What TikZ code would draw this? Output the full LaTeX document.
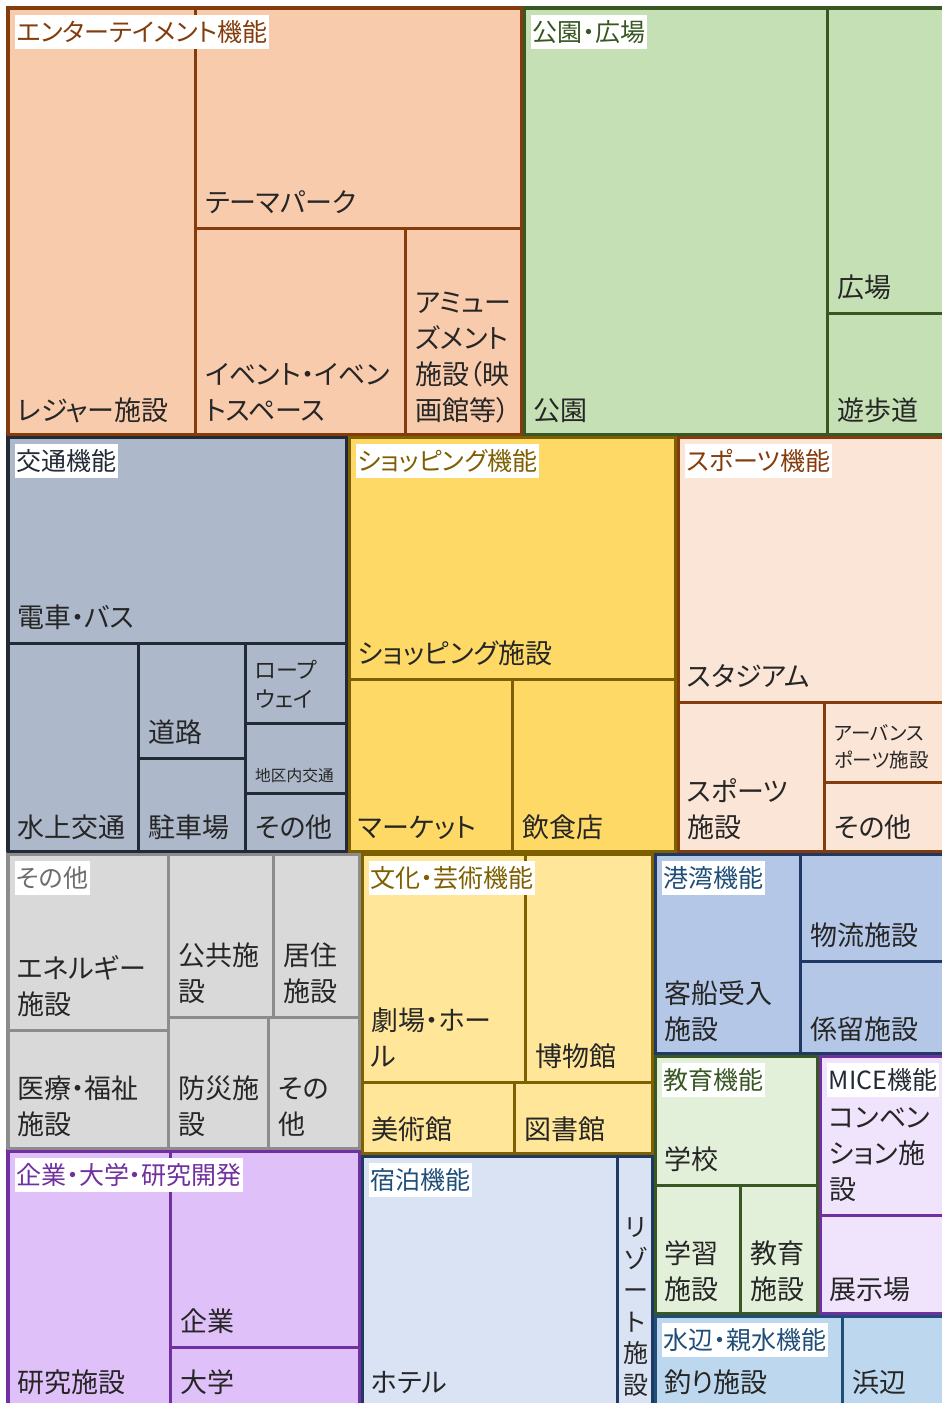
\documentclass[tikz,border=0pt]{standalone}
\usepackage{fontspec}
\setmainfont{Noto Sans CJK JP}[RawFeature={+palt}]
\usepackage{tikz}
\definecolor{labtext}{HTML}{262626}
\definecolor{entfill}{HTML}{F8CBAD}
\definecolor{entline}{HTML}{843C0C}
\definecolor{parkfill}{HTML}{C5E0B4}
\definecolor{parkline}{HTML}{385723}
\definecolor{trafill}{HTML}{ADB9CA}
\definecolor{traline}{HTML}{222A35}
\definecolor{shopfill}{HTML}{FFD966}
\definecolor{shopline}{HTML}{7F6000}
\definecolor{sportfill}{HTML}{FBE5D6}
\definecolor{othfill}{HTML}{D9D9D9}
\definecolor{othline}{HTML}{8C8C8C}
\definecolor{othtext}{HTML}{6E6E6E}
\definecolor{culfill}{HTML}{FFE699}
\definecolor{portfill}{HTML}{B4C7E7}
\definecolor{portline}{HTML}{1F3864}
\definecolor{portext}{HTML}{1F4E79}
\definecolor{edufill}{HTML}{E2F0D9}
\definecolor{micefill}{HTML}{F0E3FC}
\definecolor{purpline}{HTML}{7030A0}
\definecolor{resfill}{HTML}{DFC0F9}
\definecolor{lodgfill}{HTML}{DAE3F3}
\definecolor{watfill}{HTML}{BDD7EE}
\definecolor{watline}{HTML}{1F4E79}

\begin{document}
\begin{tikzpicture}[x=1pt,y=-1pt,
  cell/.style={line width=3pt},
  rim/.style={line width=2.6pt},
  title/.style={anchor=north west,fill=white,inner xsep=1.5pt,inner ysep=4.3pt,
    text height=22pt,text depth=3pt,font=\fontsize{25}{30}\selectfont},
  lab/.style={anchor=base west,inner sep=0pt,align=left,text=labtext,
    font=\fontsize{27}{36}\selectfont},
  midlab/.style={lab,font=\fontsize{22}{29}\selectfont},
  smalllab/.style={lab,font=\fontsize{19.5}{27}\selectfont},
  tinylab/.style={lab,font=\fontsize{15.7}{20}\selectfont}]
\useasboundingbox (0,0) rectangle (942,1403);

% Cells of each group
\foreach \xa/\ya/\xb/\yb in {7/7/195/436,195/7/523/228,195/228/405/436,405/228/523/436}
  \draw[cell,draw=entline,fill=entfill] (\xa,\ya) rectangle (\xb,\yb);
\foreach \xa/\ya/\xb/\yb in {523/7/827/436,827/7/947/313,827/313/947/436}
  \draw[cell,draw=parkline,fill=parkfill] (\xa,\ya) rectangle (\xb,\yb);
\foreach \xa/\ya/\xb/\yb in {7/436/348/643,7/643/138/853,138/643/245/758,138/758/245/853,
    245/643/348/723,245/723/348/793,245/793/348/853}
  \draw[cell,draw=traline,fill=trafill] (\xa,\ya) rectangle (\xb,\yb);
\foreach \xa/\ya/\xb/\yb in {348/436/677/679,348/679/512/853,512/679/677/853}
  \draw[cell,draw=shopline,fill=shopfill] (\xa,\ya) rectangle (\xb,\yb);
\foreach \xa/\ya/\xb/\yb in {677/436/947/702,677/702/824/853,824/702/947/782,824/782/947/853}
  \draw[cell,draw=entline,fill=sportfill] (\xa,\ya) rectangle (\xb,\yb);
\foreach \xa/\ya/\xb/\yb in {7/853/168/1030,7/1030/168/1150,168/853/273/1017,273/853/361/1017,
    168/1017/268/1150,268/1017/361/1150}
  \draw[cell,draw=othline,fill=othfill] (\xa,\ya) rectangle (\xb,\yb);
\foreach \xa/\ya/\xb/\yb in {361/853/525/1082,525/853/654/1082,361/1082/514/1155,514/1082/654/1155}
  \draw[cell,draw=shopline,fill=culfill] (\xa,\ya) rectangle (\xb,\yb);
\foreach \xa/\ya/\xb/\yb in {654/853/800/1055,800/853/947/961,800/961/947/1055}
  \draw[cell,draw=portline,fill=portfill] (\xa,\ya) rectangle (\xb,\yb);
\foreach \xa/\ya/\xb/\yb in {654/1055/819/1185,654/1185/740/1315,740/1185/819/1315}
  \draw[cell,draw=parkline,fill=edufill] (\xa,\ya) rectangle (\xb,\yb);
\foreach \xa/\ya/\xb/\yb in {819/1055/947/1215,819/1215/947/1315}
  \draw[cell,draw=purpline,fill=micefill] (\xa,\ya) rectangle (\xb,\yb);
\foreach \xa/\ya/\xb/\yb in {7/1150/170/1408,170/1150/361/1347,170/1347/361/1408}
  \draw[cell,draw=purpline,fill=resfill] (\xa,\ya) rectangle (\xb,\yb);
\foreach \xa/\ya/\xb/\yb in {361/1155/617/1408,617/1155/654/1408}
  \draw[cell,draw=portline,fill=lodgfill] (\xa,\ya) rectangle (\xb,\yb);
\foreach \xa/\ya/\xb/\yb in {654/1315/842/1408,842/1315/947/1408}
  \draw[cell,draw=watline,fill=watfill] (\xa,\ya) rectangle (\xb,\yb);

% Group rims
\foreach \xa/\ya/\xb/\yb/\c in {7/7/523/436/entline,523/7/947/436/parkline,
    7/436/348/853/traline,348/436/677/853/shopline,677/436/947/853/entline,
    7/853/361/1150/othline,361/853/654/1155/shopline,654/853/947/1055/portline,
    654/1055/819/1315/parkline,819/1055/947/1315/purpline,7/1150/361/1408/purpline,
    361/1155/654/1408/portline,654/1315/947/1408/watline}
  \draw[rim,draw=\c] (\xa+1.3,\ya+1.3) rectangle (\xb-1.3,\yb-1.3);

% Cell labels
\node[lab] (leisure) at (17,420.5) {レジャー施設};
\node[lab] (themepark) at (205,212.5) {テーマパーク};
\node[lab] (event) at (205,420.5) {イベント・イベン\\トスペース};
\node[lab] (amuse) at (415,420.5) {アミュー\\ズメント\\施設（映\\画館等）};
\node[lab] (park) at (533,420.5) {公園};
\node[lab] (plaza) at (837,297.5) {広場};
\node[lab] (promenade) at (837,420.5) {遊歩道};
\node[lab] (trainbus) at (17,627.5) {電車・バス};
\node[lab] (watertra) at (17,837.5) {水上交通};
\node[lab] (road) at (148,742.5) {道路};
\node[lab] (parking) at (148,837.5) {駐車場};
\node[midlab] (ropeway) at (255,707.5) {ロープ\\ウェイ};
\node[tinylab] (district) at (255,781) {地区内交通};
\node[lab] (traother) at (255,837.5) {その他};
\node[lab] (shopfac) at (358,663.5) {ショッピング施設};
\node[lab] (market) at (358,837.5) {マーケット};
\node[lab] (food) at (522,837.5) {飲食店};
\node[lab] (stadium) at (687,686.5) {スタジアム};
\node[lab] (sportfac) at (687,837.5) {スポーツ\\施設};
\node[smalllab] (urban) at (834,767.5) {アーバンス\\ポーツ施設};
\node[lab] (sportother) at (834,837.5) {その他};
\node[lab] (energy) at (17,1014.5) {エネルギー\\施設};
\node[lab] (medical) at (17,1134.5) {医療・福祉\\施設};
\node[lab] (public) at (178,1001.5) {公共施\\設};
\node[lab] (housing) at (283,1001.5) {居住\\施設};
\node[lab] (disaster) at (178,1134.5) {防災施\\設};
\node[lab] (othother) at (278,1134.5) {その\\他};
\node[lab] (theater) at (371,1066.5) {劇場・ホー\\ル};
\node[lab] (museum) at (535,1066.5) {博物館};
\node[lab] (artmus) at (371,1139.5) {美術館};
\node[lab] (library) at (524,1139.5) {図書館};
\node[lab] (cruise) at (664,1039.5) {客船受入\\施設};
\node[lab] (logistic) at (810,945.5) {物流施設};
\node[lab] (mooring) at (810,1039.5) {係留施設};
\node[lab] (school) at (664,1169.5) {学校};
\node[lab] (learning) at (664,1299.5) {学習\\施設};
\node[lab] (edufac) at (750,1299.5) {教育\\施設};
\node[lab] (convention) at (829,1199.5) {コンベン\\ション施\\設};
\node[lab] (exhibit) at (829,1299.5) {展示場};
\node[lab] (research) at (17,1392.5) {研究施設};
\node[lab] (company) at (180,1331.5) {企業};
\node[lab] (univ) at (180,1392.5) {大学};
\node[lab] (hotel) at (371,1392.5) {ホテル};
\node[lab,anchor=base,align=center,font=\fontsize{25}{31.5}\selectfont] (resort)
  at (635.5,1394) {リ\\ゾ\\ー\\ト\\施\\設};
\node[lab] (fishing) at (664,1392.5) {釣り施設};
\node[lab] (beach) at (852,1392.5) {浜辺};

% Group titles
\node[title,text=entline] (enttitle) at (15,15) {エンターテイメント機能};
\node[title,text=parkline] (parktitle) at (531,15) {公園・広場};
\node[title,text=traline] (tratitle) at (15,444) {交通機能};
\node[title,text=shopline] (shoptitle) at (356,444) {ショッピング機能};
\node[title,text=entline] (sporttitle) at (685,444) {スポーツ機能};
\node[title,text=othtext] (othtitle) at (15,861) {その他};
\node[title,text=shopline] (cultitle) at (369,861) {文化・芸術機能};
\node[title,text=portext] (porttitle) at (662,861) {港湾機能};
\node[title,text=parkline] (edutitle) at (662,1063) {教育機能};
\node[title,text=traline] (micetitle) at (827,1063) {MICE機能};
\node[title,text=purpline] (restitle) at (15,1158) {企業・大学・研究開発};
\node[title,text=portext] (lodgtitle) at (369,1163) {宿泊機能};
\node[title,text=watline] (wattitle) at (662,1323) {水辺・親水機能};
\end{tikzpicture}
\end{document}
